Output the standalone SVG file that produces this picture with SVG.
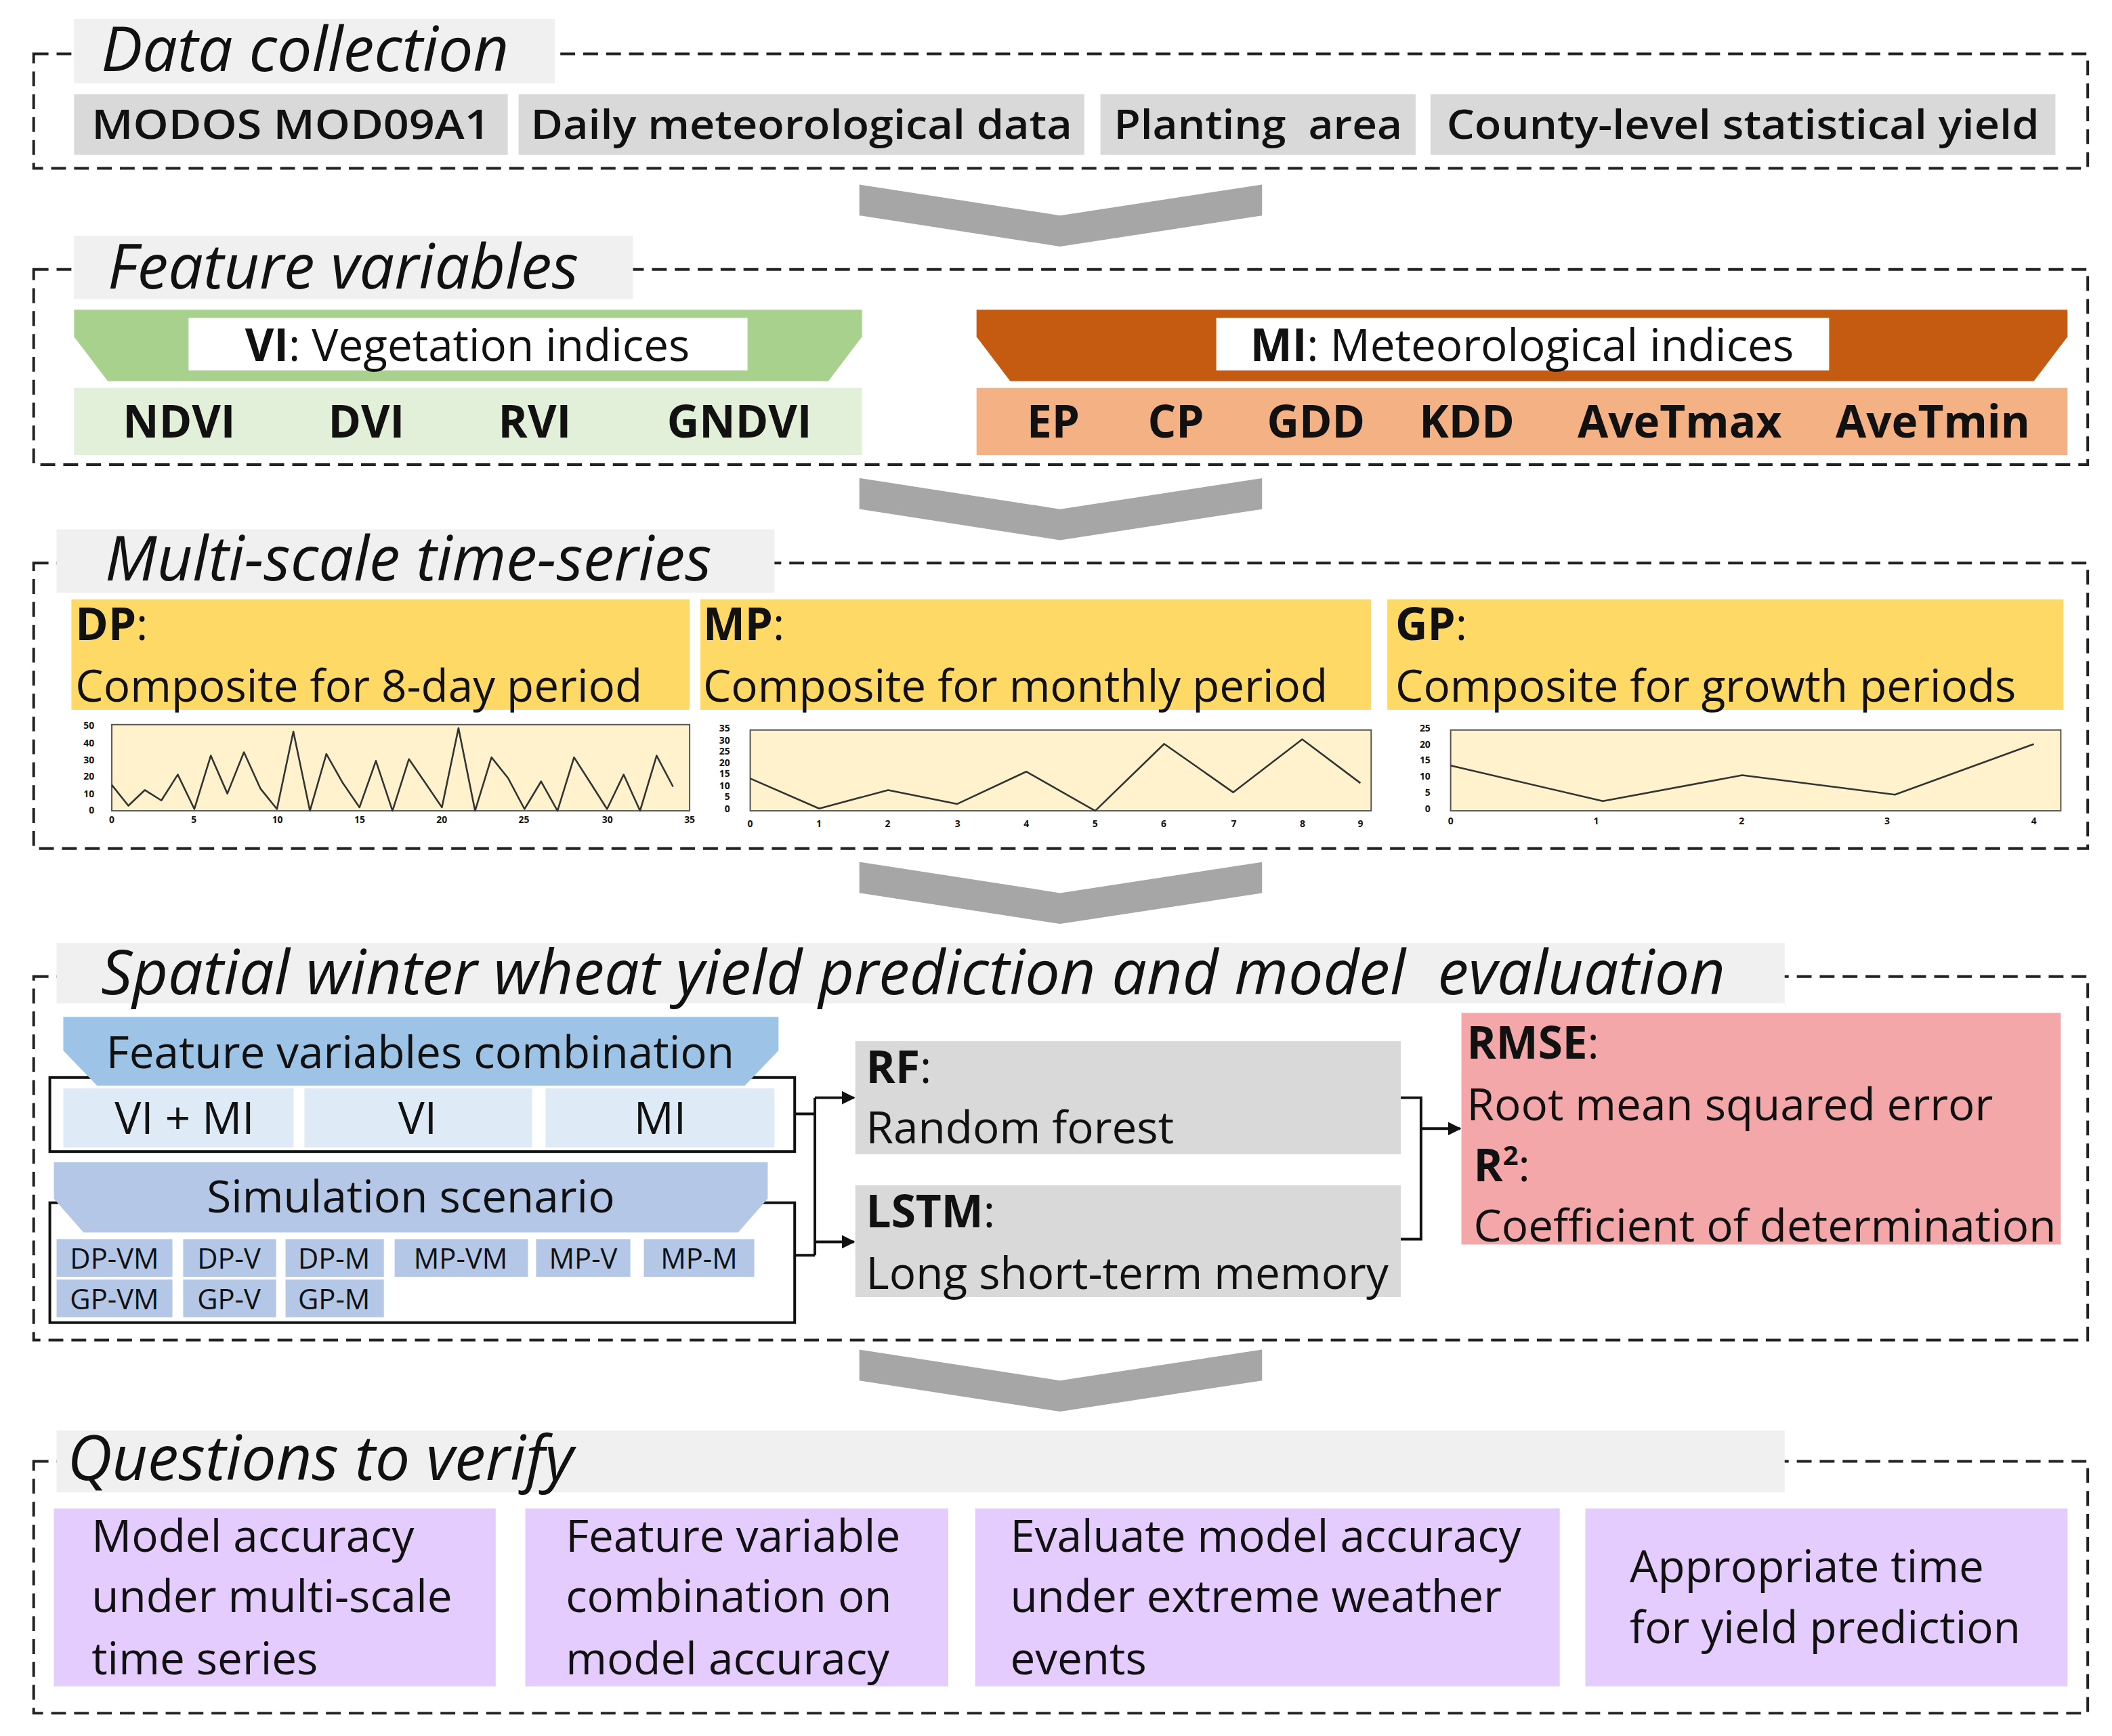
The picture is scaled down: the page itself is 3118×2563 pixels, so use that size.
<svg xmlns="http://www.w3.org/2000/svg" width="3118" height="2563" viewBox="0 0 3118 2563">
<style>
text{font-family:"Open Sans",Lato,"Liberation Sans",sans-serif;fill:#111}
.t{font-size:46px;font-style:italic}
.b{font-weight:bold}
.m{font-size:33px}
.s{font-size:21px}
.tk{font-size:7px;font-weight:bold}
.dash{fill:none;stroke:#222;stroke-width:2;stroke-dasharray:11 6}
.tb{fill:#f0f0f0}
.chev{fill:#a6a6a6}
.ln{fill:none;stroke:#111;stroke-width:2}
.cv{fill:none;stroke:#333;stroke-width:1.3;stroke-linejoin:round}
</style>
<defs>
<marker id="ah" viewBox="0 0 10 10" refX="9" refY="5" markerWidth="5" markerHeight="5" orient="auto"><path d="M0,0L10,5L0,10z" fill="#111"/></marker>
<polygon id="chev" points="638,137 787,160 937,137 937,160 787,183 638,160"/>
</defs>
<rect width="3118" height="2563" fill="#fff"/>
<g transform="scale(1.9885)">
<g id="arrows" class="chev">
<use href="#chev"/>
<use href="#chev" transform="translate(0,218)"/>
<use href="#chev" transform="translate(0,503)"/>
<use href="#chev" transform="translate(0,865)"/>
</g>
<g id="data-collection">
<rect class="dash" x="25" y="40" width="1525" height="85"/>
<rect class="tb" x="55" y="14" width="357" height="48"/>
<text class="t" x="75" y="53">Data collection</text>
<rect fill="#d9d9d9" x="55" y="70" width="322" height="45"/>
<rect fill="#d9d9d9" x="385" y="70" width="420" height="45"/>
<rect fill="#d9d9d9" x="817" y="70" width="234" height="45"/>
<rect fill="#d9d9d9" x="1062" y="70" width="464" height="45"/>
<g font-size="30" font-weight="600" text-anchor="middle">
<text x="216" y="103" textLength="296" lengthAdjust="spacingAndGlyphs">MODOS MOD09A1</text>
<text x="595" y="103" textLength="402" lengthAdjust="spacingAndGlyphs">Daily meteorological data</text>
<text x="934" y="103" xml:space="preserve" textLength="214" lengthAdjust="spacingAndGlyphs">Planting  area</text>
<text x="1294" y="103" textLength="440" lengthAdjust="spacingAndGlyphs">County-level statistical yield</text>
</g>
</g>
<g id="feature-variables">
<rect class="dash" x="25" y="200" width="1525" height="145"/>
<rect class="tb" x="55" y="175" width="415" height="47"/>
<text class="t" x="80" y="214">Feature variables</text>
<polygon fill="#a9d18e" points="55,230 640,230 640,250 615,283 80,283 55,250"/>
<rect fill="#fff" x="140" y="236" width="415" height="39"/>
<text class="m" x="347" y="268" text-anchor="middle"><tspan class="b">VI</tspan>: Vegetation indices</text>
<rect fill="#e2f0d9" x="55" y="288" width="585" height="50"/>
<g class="m b" text-anchor="middle">
<text x="133" y="325">NDVI</text><text x="272" y="325">DVI</text><text x="397" y="325">RVI</text><text x="549" y="325">GNDVI</text>
</g>
<polygon fill="#c55a11" points="725,230 1535,230 1535,250 1510,283 750,283 725,250"/>
<rect fill="#fff" x="903" y="236" width="455" height="39"/>
<text class="m" x="1130" y="268" text-anchor="middle"><tspan class="b">MI</tspan>: Meteorological indices</text>
<rect fill="#f4b183" x="725" y="288" width="810" height="50"/>
<g class="m b" text-anchor="middle">
<text x="782" y="325">EP</text><text x="873" y="325">CP</text><text x="977" y="325">GDD</text><text x="1089" y="325">KDD</text><text x="1247" y="325">AveTmax</text><text x="1435" y="325">AveTmin</text>
</g>
</g>
<g id="multi-scale">
<rect class="dash" x="25" y="418" width="1525" height="212"/>
<rect class="tb" x="42" y="393" width="533" height="47"/>
<text class="t" x="78" y="431">Multi-scale time-series</text>
<rect fill="#ffd966" x="53" y="445" width="459" height="82"/>
<rect fill="#ffd966" x="520" y="445" width="498" height="82"/>
<rect fill="#ffd966" x="1030" y="445" width="502" height="82"/>
<g class="m">
<text x="56" y="475" class="b">DP<tspan font-weight="normal">:</tspan></text>
<text x="56" y="521">Composite for 8-day period</text>
<text x="522" y="475" class="b">MP<tspan font-weight="normal">:</tspan></text>
<text x="522" y="521">Composite for monthly period</text>
<text x="1036" y="475" class="b">GP<tspan font-weight="normal">:</tspan></text>
<text x="1036" y="521">Composite for growth periods</text>
</g>
<rect fill="#fff2cc" stroke="#555" stroke-width="1" x="83" y="538" width="429" height="64"/>
<polyline class="cv" points="83,582.8 95.3,598.2 107.5,586.6 119.8,594.3 132,575.1 144.3,600.7 156.5,561 168.8,589.2 181.1,558.5 193.3,585.4 205.6,600.7 217.8,543.1 230.1,602 242.3,559.8 254.6,581.5 266.9,599.4 279.1,564.9 291.4,602 303.6,563.6 315.9,581.5 328.1,599.4 340.4,540.6 352.7,602 364.9,562.3 377.2,577.7 389.4,600.7 401.7,580.2 413.9,602 426.2,562.3 438.5,581.5 450.7,600.7 463,575.1 475.2,602 487.5,561 499.7,584.1"/>
<g class="tk" text-anchor="end">
<text x="70" y="541">50</text><text x="70" y="554">40</text><text x="70" y="567">30</text><text x="70" y="579">20</text><text x="70" y="592">10</text><text x="70" y="604">0</text>
</g>
<g class="tk" text-anchor="middle">
<text x="83" y="611">0</text><text x="144" y="611">5</text><text x="206" y="611">10</text><text x="267" y="611">15</text><text x="328" y="611">20</text><text x="389" y="611">25</text><text x="451" y="611">30</text><text x="512" y="611">35</text>
</g>
<rect fill="#fff2cc" stroke="#555" stroke-width="1" x="557" y="542" width="461" height="60"/>
<polyline class="cv" points="557,578 608.2,600.3 659.4,586.6 710.7,596.9 761.9,572.9 813.1,602 864.3,552.3 915.6,588.3 966.8,548.9 1010,581.4"/>
<g class="tk" text-anchor="end">
<text x="542" y="543">35</text><text x="542" y="552">30</text><text x="542" y="560">25</text><text x="542" y="569">20</text><text x="542" y="577">15</text><text x="542" y="586">10</text><text x="542" y="594">5</text><text x="542" y="603">0</text>
</g>
<g class="tk" text-anchor="middle">
<text x="557" y="614">0</text><text x="608" y="614">1</text><text x="659" y="614">2</text><text x="711" y="614">3</text><text x="762" y="614">4</text><text x="813" y="614">5</text><text x="864" y="614">6</text><text x="916" y="614">7</text><text x="967" y="614">8</text><text x="1010" y="614">9</text>
</g>
<rect fill="#fff2cc" stroke="#555" stroke-width="1" x="1077" y="542" width="453" height="60"/>
<polyline class="cv" points="1077,568.4 1190,594.8 1293.5,575.6 1406.8,590 1510,552.4"/>
<g class="tk" text-anchor="end">
<text x="1062" y="543">25</text><text x="1062" y="555">20</text><text x="1062" y="567">15</text><text x="1062" y="579">10</text><text x="1062" y="591">5</text><text x="1062" y="603">0</text>
</g>
<g class="tk" text-anchor="middle">
<text x="1077" y="612">0</text><text x="1185" y="612">1</text><text x="1293" y="612">2</text><text x="1401" y="612">3</text><text x="1510" y="612">4</text>
</g>
</g>
<g id="prediction">
<rect class="dash" x="25" y="725" width="1525" height="270"/>
<rect class="tb" x="42" y="700" width="1283" height="45"/>
<text class="t" x="75" y="738" xml:space="preserve">Spatial winter wheat yield prediction and model  evaluation</text>
<rect class="ln" x="37" y="800" width="553" height="55"/>
<polygon fill="#9dc3e6" points="47,755 578,755 578,780 553,806 72,806 47,780"/>
<text class="m" x="312" y="793" text-anchor="middle">Feature variables combination</text>
<rect fill="#deebf7" x="47" y="808" width="171" height="44"/>
<rect fill="#deebf7" x="226" y="808" width="169" height="44"/>
<rect fill="#deebf7" x="405" y="808" width="170" height="44"/>
<g class="m" text-anchor="middle"><text x="137" y="842">VI + MI</text><text x="310" y="842">VI</text><text x="490" y="842">MI</text></g>
<rect class="ln" x="37" y="893" width="553" height="89"/>
<polygon fill="#b4c7e7" points="40,863 570,863 570,890 548,915 62,915 40,890"/>
<text class="m" x="305" y="900" text-anchor="middle">Simulation scenario</text>
<g fill="#b4c7e7">
<rect x="42" y="920" width="86" height="28"/><rect x="136" y="920" width="69" height="28"/><rect x="212" y="920" width="73" height="28"/><rect x="293" y="920" width="99" height="28"/><rect x="398" y="920" width="70" height="28"/><rect x="478" y="920" width="82" height="28"/>
<rect x="42" y="950" width="86" height="28"/><rect x="136" y="950" width="69" height="28"/><rect x="212" y="950" width="73" height="28"/>
</g>
<g class="s" text-anchor="middle">
<text x="85" y="942">DP-VM</text><text x="170" y="942">DP-V</text><text x="248" y="942">DP-M</text><text x="342" y="942">MP-VM</text><text x="433" y="942">MP-V</text><text x="519" y="942">MP-M</text>
<text x="85" y="972">GP-VM</text><text x="170" y="972">GP-V</text><text x="248" y="972">GP-M</text>
</g>
<rect fill="#d9d9d9" x="635" y="773" width="405" height="84"/>
<text class="m b" x="643" y="804">RF<tspan font-weight="normal">:</tspan></text>
<text class="m" x="643" y="849">Random forest</text>
<rect fill="#d9d9d9" x="635" y="880" width="405" height="83"/>
<text class="m b" x="643" y="911">LSTM<tspan font-weight="normal">:</tspan></text>
<text class="m" x="643" y="957">Long short-term memory</text>
<rect fill="#f4a7a8" x="1085" y="752" width="445" height="172"/>
<text class="m b" x="1089" y="786">RMSE<tspan font-weight="normal">:</tspan></text>
<text class="m" x="1089" y="832">Root mean squared error</text>
<text class="m b" x="1094" y="877">R<tspan font-size="20" dy="-12">2</tspan><tspan font-weight="normal" dy="12">:</tspan></text>
<text class="m" x="1094" y="922">Coefficient of determination</text>
</g>
<g id="connectors" class="ln">
<path d="M590,827H605M590,932H605M605,815V932M1040,815H1055V920H1040"/>
<path d="M605,815H634" marker-end="url(#ah)"/>
<path d="M605,922H634" marker-end="url(#ah)"/>
<path d="M1055,838H1084" marker-end="url(#ah)"/>
</g>
<g id="questions">
<rect class="dash" x="25" y="1085" width="1525" height="187"/>
<rect class="tb" x="42" y="1062" width="1283" height="46"/>
<text class="t" x="50" y="1099">Questions to verify</text>
<g fill="#e5ccff">
<rect x="40" y="1120" width="328" height="132"/><rect x="390" y="1120" width="314" height="132"/><rect x="724" y="1120" width="434" height="132"/><rect x="1177" y="1120" width="358" height="132"/>
</g>
<g class="m">
<text x="68" y="1152">Model accuracy</text><text x="68" y="1197">under multi-scale</text><text x="68" y="1243">time series</text>
<text x="420" y="1152">Feature variable</text><text x="420" y="1197">combination on</text><text x="420" y="1243">model accuracy</text>
<text x="750" y="1152">Evaluate model accuracy</text><text x="750" y="1197">under extreme weather</text><text x="750" y="1243">events</text>
<text x="1210" y="1175">Appropriate time</text><text x="1210" y="1220">for yield prediction</text>
</g>
</g>
</g>
</svg>
